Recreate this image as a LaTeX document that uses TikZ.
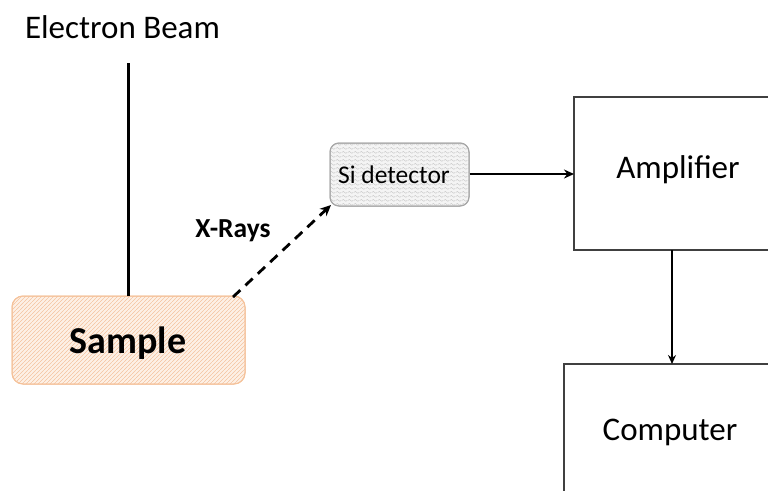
\documentclass[tikz,border=0pt]{standalone}
\usepackage{fontspec}
\setmainfont{Carlito}
\usetikzlibrary{patterns,arrows.meta}

% fine wavy texture for the detector body
\pgfdeclarepatternformonly{softwaves}{\pgfpointorigin}{\pgfpoint{6pt}{4pt}}{\pgfpoint{6pt}{4pt}}{%
  \pgfsetlinewidth{0.5pt}%
  \pgfpathmoveto{\pgfpoint{0pt}{2pt}}%
  \pgfpathcurveto{\pgfpoint{1.5pt}{3.5pt}}{\pgfpoint{1.5pt}{3.5pt}}{\pgfpoint{3pt}{2pt}}%
  \pgfpathcurveto{\pgfpoint{4.5pt}{0.5pt}}{\pgfpoint{4.5pt}{0.5pt}}{\pgfpoint{6pt}{2pt}}%
  \pgfusepath{stroke}}

% thin diagonal hatching for the sample body
\pgfdeclarepatternformonly{finehatch}{\pgfpointorigin}{\pgfpoint{4pt}{4pt}}{\pgfpoint{4pt}{4pt}}{%
  \pgfsetlinewidth{0.6pt}%
  \pgfpathmoveto{\pgfpoint{-0.5pt}{-0.5pt}}%
  \pgfpathlineto{\pgfpoint{4.5pt}{4.5pt}}%
  \pgfusepath{stroke}}

\definecolor{peach}{HTML}{FDF0E5}
\definecolor{peachline}{HTML}{F4C29E}
\definecolor{peachedge}{HTML}{F5C29A}
\definecolor{detfill}{HTML}{F4F4F4}
\definecolor{detline}{HTML}{C4C4C4}
\definecolor{detedge}{HTML}{A6A6A6}
\definecolor{boxedge}{HTML}{404040}

\begin{document}
\begin{tikzpicture}[x=1pt,y=-1pt,
  plainbox/.style={draw=boxedge,line width=1.3pt,fill=white},
  connector/.style={line width=2.6pt,-{Stealth[length=10pt,width=9pt]}},
  thinconn/.style={line width=1.5pt,-{Stealth[length=9pt,width=8pt]}},
  lbl/.style={inner sep=0pt,anchor=center}]
  \useasboundingbox (0,0) rectangle (768,490);

  % instrument boxes, cut off by the page edges
  \path[plainbox] (574,97) rectangle (800,250);
  \path[plainbox] (564,364) rectangle (800,520);
  \node[lbl,font=\fontsize{33}{38}\selectfont] (amp) at (678,170) {Amplifier};
  \node[lbl,font=\fontsize{33}{38}\selectfont] (comp) at (670,432) {Computer};
  \coordinate (ampW) at (574,174);
  \coordinate (ampS) at (672,250);
  \coordinate (compN) at (672,364);

  % sample
  \node[draw=peachedge,line width=1pt,rounded corners=11pt,fill=peach,
        minimum width=233pt,minimum height=88pt,inner sep=0pt] (sample) at (128.5,340) {};
  \path[pattern=finehatch,pattern color=peachline,rounded corners=11pt]
        (12,296) rectangle (245,384);
  \draw[peachedge,line width=1pt,rounded corners=11pt] (12,296) rectangle (245,384);
  \node[lbl,font=\bfseries\fontsize{38}{44}\selectfont] at (128,343) {Sample};

  % Si detector
  \node[draw=detedge,line width=1pt,rounded corners=9pt,fill=detfill,
        minimum width=139pt,minimum height=63pt,inner sep=0pt] (det) at (399.5,174.5) {};
  \path[pattern=softwaves,pattern color=detline,rounded corners=9pt]
        (330,143) rectangle (469,206);
  \draw[detedge,line width=1pt,rounded corners=9pt] (330,143) rectangle (469,206);
  \node[lbl,font=\fontsize{25.5}{30}\selectfont] at (394,175) {Si detector};

  % electron beam
  \node[lbl,font=\fontsize{33}{38}\selectfont] (beam) at (122.5,27) {Electron Beam};
  \coordinate (beamTop) at (128,63);
  \draw[line width=3pt] (beamTop) -- (sample.north -| beamTop);

  % x-rays leaving the sample
  \coordinate (xsrc) at (233,297);
  \coordinate (xdst) at (331,205);
  \draw[line width=2.8pt,dash pattern=on 10pt off 7pt,-{Stealth[length=11pt,width=10pt]}] (xsrc) -- (xdst);
  \node[lbl,font=\bfseries\fontsize{27.5}{32}\selectfont] (xr) at (233,231) {X-Rays};

  % signal chain
  \draw[connector] (det.east |- ampW) -- (ampW);
  \draw[thinconn] (ampS) -- (compN);
\end{tikzpicture}
\end{document}
